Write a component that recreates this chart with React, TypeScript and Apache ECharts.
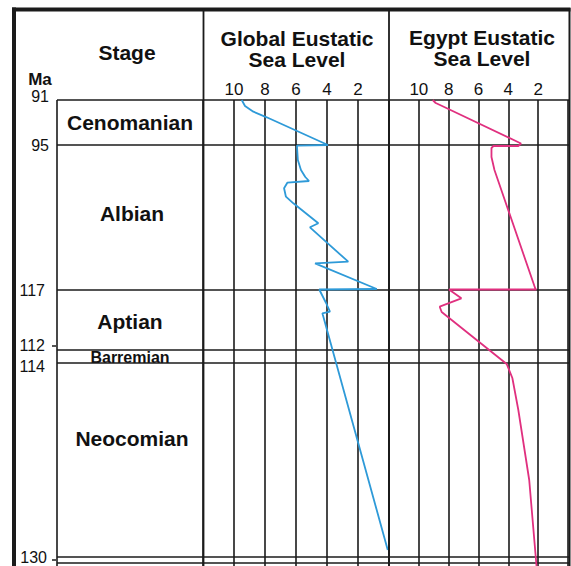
import React, { useEffect, useRef } from "react";
import * as echarts from "echarts";

// Stage names, top to bottom
const stages = ["Cenomanian", "Albian", "Aptian", "Barremian", "Neocomian"];

// Stage boundaries, as depth down the column (0 = top of the 91 Ma line)
const boundaryDepths = [0, 45, 190, 250, 263, 457];
const boundaryAges = ["91", "95", "117", "112", "114", "130"];
// top of the next (cut-off) row below the 130 Ma boundary
const lowerRowDepth = 463;

// Sea-level tick labels shown above each curve column
const seaLevelTicks = [10, 8, 6, 4, 2];

// [sea level, depth]
const globalLevel: [number, number][] = [
  [9.5, 0],
  [9.29, 6],
  [8.75, 11.7],
  [7.89, 17.3],
  [3.94, 45],
  [5.94, 45.7],
  [5.88, 60],
  [5.68, 70],
  [5.4, 77],
  [5.16, 81],
  [6.56, 82.7],
  [6.77, 88.3],
  [6.65, 96.7],
  [6.17, 103.3],
  [4.56, 123.3],
  [5.1, 127.3],
  [2.63, 161.7],
  [4.77, 163.3],
  [0.79, 189],
  [4.5, 189.5],
  [4.06, 203],
  [3.81, 211.7],
  [4.3, 213.3],
  [4.23, 217],
  [0.08, 450],
];

const egyptLevel: [number, number][] = [
  [9.07, 0],
  [8.87, 3],
  [8.51, 5.5],
  [3.15, 43.5],
  [3.33, 46],
  [5.0, 46],
  [5.13, 48],
  [5.13, 57],
  [4.93, 70],
  [2.2, 188.3],
  [2.13, 189.5],
  [7.98, 189.5],
  [7.15, 198.3],
  [8.6, 206.7],
  [8.47, 212],
  [4.11, 264],
  [3.73, 278],
  [3.33, 310],
  [2.6, 380],
  [2.11, 466],
];

const FONT = '"Liberation Sans", Arial, Helvetica, sans-serif';
const INK = "#1b1b1b";
const TEXT = "#111111";
const DEPTH_MAX = 466;
const GRID_TOP = 100;

function buildOption(): echarts.EChartsOption {
  const depthAxis = (gridIndex: number) => ({
    type: "value" as const,
    gridIndex,
    min: 0,
    max: DEPTH_MAX,
    inverse: true,
    show: false,
  });

  const levelAxis = (gridIndex: number) => ({
    type: "value" as const,
    gridIndex,
    min: 0,
    max: 12,
    interval: 2,
    inverse: true,
    position: "top" as const,
    axisLine: { show: false },
    axisTick: { show: false },
    axisLabel: {
      margin: 2,
      fontSize: 17,
      color: TEXT,
      fontFamily: FONT,
      formatter: (v: number) => (seaLevelTicks.includes(v) ? String(v) : ""),
    },
    splitLine: { show: true, lineStyle: { color: INK, width: 1.6 } },
  });

  // label placement for the Ma column: [distance from column edge, vertical shift]
  const agePlacement: [number, number][] = [
    [8, -3.5],
    [8, 0],
    [12, 0],
    [12, -4.5],
    [12, 3],
    [10, 0],
  ];
  const ageTickShift: Record<number, number> = { 3: -4, 5: 3 };

  // small shifts so long stage names sit where they read best
  const stageShift: Record<string, [number, number]> = {
    Albian: [2, -4.5],
    Aptian: [0, 1],
    Barremian: [0, 0.5],
    Neocomian: [2, -22],
  };

  const stageData = stages.map((name, i) => {
    const mid = (boundaryDepths[i] + boundaryDepths[i + 1]) / 2;
    const shift = stageShift[name] || [0, 0];
    return {
      name,
      value: [0.5, mid],
      label: {
        offset: shift,
        fontSize: name === "Barremian" ? 16 : 21,
      },
    };
  });

  const vLine = (x: number, y1: number, y2: number, w: number) => ({
    type: "line" as const,
    shape: { x1: x, y1, x2: x, y2 },
    style: { stroke: INK, lineWidth: w },
    z: 20,
    silent: true,
  });

  const headerText = (text: string, x: number, y: number, size = 21) => ({
    type: "text" as const,
    x,
    y,
    style: {
      text,
      fill: TEXT,
      fontFamily: FONT,
      fontWeight: "bold" as const,
      fontSize: size,
      align: "center" as const,
      verticalAlign: "middle" as const,
    },
    z: 20,
  });

  return {
    animation: false,
    backgroundColor: "#ffffff",
    textStyle: { fontFamily: FONT },
    grid: [
      { left: 57, top: GRID_TOP, width: 512, height: DEPTH_MAX },
      { left: 57, top: GRID_TOP, width: 146, height: DEPTH_MAX },
      { left: 203, top: GRID_TOP, width: 186, height: DEPTH_MAX },
      { left: 389, top: GRID_TOP, width: 180, height: DEPTH_MAX },
    ],
    xAxis: [
      { type: "value", gridIndex: 0, min: 0, max: 1, show: false },
      { type: "value", gridIndex: 1, min: 0, max: 1, show: false },
      levelAxis(2),
      levelAxis(3),
    ],
    yAxis: [depthAxis(0), depthAxis(1), depthAxis(2), depthAxis(3)],
    series: [
      {
        type: "scatter",
        name: "Ma",
        xAxisIndex: 0,
        yAxisIndex: 0,
        symbolSize: 0,
        silent: true,
        itemStyle: { color: TEXT, opacity: 1 },
        data: boundaryDepths.map((d, i) => ({
          value: [0, d],
          name: boundaryAges[i],
          label: {
            show: true,
            position: "left",
            distance: agePlacement[i][0],
            offset: [0, agePlacement[i][1]],
          },
        })),
        label: {
          formatter: "{b}",
          fontSize: 16,
          color: TEXT,
          opacity: 1,
          fontFamily: FONT,
        },
        markLine: {
          silent: true,
          symbol: ["none", "none"],
          label: { show: false },
          lineStyle: { color: INK, width: 1.6, type: "solid", opacity: 1 },
          data: [...boundaryDepths, lowerRowDepth].map((d) => ({ yAxis: d })),
        },
        z: 5,
      },
      {
        type: "scatter",
        name: "Ma ticks",
        xAxisIndex: 0,
        yAxisIndex: 0,
        silent: true,
        symbol: "rect",
        symbolSize: [4, 1.5],
        itemStyle: { color: INK, opacity: 1 },
        data: Object.keys(ageTickShift).map((k) => {
          const i = Number(k);
          return {
            value: [0, boundaryDepths[i]],
            symbolOffset: [-3, ageTickShift[i]],
          };
        }),
      },
      {
        type: "scatter",
        name: "Stage",
        xAxisIndex: 1,
        yAxisIndex: 1,
        symbolSize: 0,
        silent: true,
        itemStyle: { color: TEXT, opacity: 1 },
        data: stageData,
        label: {
          show: true,
          position: "inside",
          formatter: "{b}",
          color: TEXT,
          opacity: 1,
          textBorderWidth: 0,
          textBorderColor: "transparent",
          fontWeight: "bold",
          fontFamily: FONT,
        },
      },
      {
        type: "line",
        name: "Global Eustatic Sea Level",
        xAxisIndex: 2,
        yAxisIndex: 2,
        data: globalLevel,
        showSymbol: false,
        symbol: "none",
        silent: true,
        lineStyle: { color: "#2e9ad8", width: 1.8 },
        z: 10,
      },
      {
        type: "line",
        name: "Egypt Eustatic Sea Level",
        xAxisIndex: 3,
        yAxisIndex: 3,
        data: egyptLevel,
        showSymbol: false,
        symbol: "none",
        silent: true,
        lineStyle: { color: "#e0307f", width: 1.8 },
        z: 10,
      },
    ],
    graphic: [
      // outer frame
      {
        type: "line",
        shape: { x1: 12, y1: 9.5, x2: 570.5, y2: 9.5 },
        style: { stroke: INK, lineWidth: 4 },
        z: 20,
        silent: true,
      },
      vLine(14, 7.5, 566, 4),
      vLine(569.5, 8, 566, 2),
      // column dividers
      vLine(203.5, 9, 566, 1.8),
      vLine(389, 9, 566, 1.8),
      vLine(57, GRID_TOP, 566, 1.6),
      // headers
      headerText("Stage", 127, 52),
      headerText("Global Eustatic", 297, 38),
      headerText("Sea Level", 297, 59),
      headerText("Egypt Eustatic", 482, 37),
      headerText("Sea Level", 482, 58),
      headerText("Ma", 40, 79, 17),
    ],
  };
}

export default function App() {
  const ref = useRef<HTMLDivElement>(null);

  useEffect(() => {
    if (!ref.current) return;
    const chart = echarts.init(ref.current, undefined, { renderer: "svg" });
    chart.setOption(buildOption());
    return () => chart.dispose();
  }, []);

  return (
    <div
      ref={ref}
      style={{
        position: "absolute",
        left: 0,
        top: 0,
        width: 571,
        height: 566,
        background: "#fff",
      }}
    />
  );
}
